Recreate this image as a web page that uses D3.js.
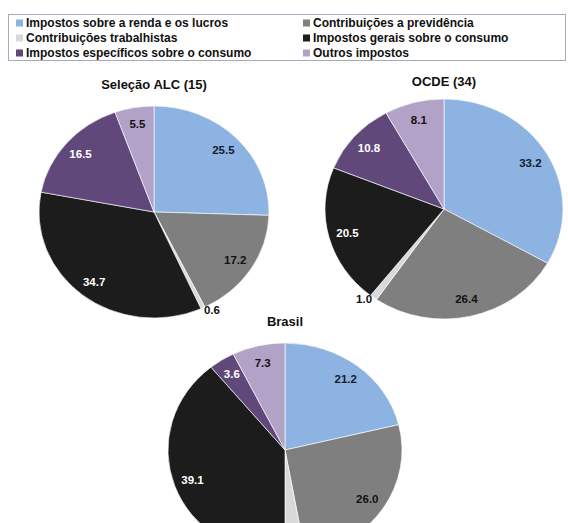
<!DOCTYPE html>
<html>
<head>
<meta charset="utf-8">
<script src="https://cdn.jsdelivr.net/npm/d3@7"></script>
<style>
  html, body { margin: 0; padding: 0; background: #fff; }
  svg { display: block; font-family: "Liberation Sans", Arial, sans-serif; }
</style>
</head>
<body>
<svg id="chart" width="568" height="523"></svg>
<script>
const categories = [
  "Impostos sobre a renda e os lucros",
  "Contribuições a previdência",
  "Contribuições trabalhistas",
  "Impostos gerais sobre o consumo",
  "Impostos específicos sobre o consumo",
  "Outros impostos"
];
const colors = ["#8db3e2", "#7f7f7f", "#d9d9d9", "#1c1c1c", "#60497a", "#b3a2c7"];
const labelColors = ["#141b2e", "#111", "#111", "#fff", "#fff", "#111"];

const alcValues = [25.5, 17.2, 0.6, 34.7, 16.5, 5.5];
const ocdeValues = [33.2, 26.4, 1.0, 20.5, 10.8, 8.1];
const brasilValues = [21.2, 26.0, 2.8, 39.1, 3.6, 7.3];

const pies = [
  { title: "Seleção ALC (15)", values: alcValues, cx: 154, cy: 212, rx: 115, ry: 106, ty: 89 },
  { title: "OCDE (34)", values: ocdeValues, cx: 444, cy: 209, rx: 119, ry: 110, ty: 86 },
  { title: "Brasil", values: brasilValues, cx: 285, cy: 450, rx: 117, ry: 107, ty: 326 }
];

const W = 568, H = 523;
const svg = d3.select("#chart");

// Legend
const legend = svg.append("g");
legend.append("rect")
  .attr("x", 8.5).attr("y", 14.5).attr("width", 557).attr("height", 46)
  .attr("fill", "#fff").attr("stroke", "#a9a9bd").attr("stroke-width", 1);

const colX = [16, 303];
const rowY = [23, 38, 53];
categories.forEach((c, i) => {
  const col = i % 2, row = Math.floor(i / 2);
  const g = legend.append("g").attr("transform", `translate(${colX[col]},${rowY[row]})`);
  g.append("rect").attr("x", 0).attr("y", -3.5).attr("width", 7).attr("height", 7).attr("fill", colors[i]);
  g.append("text").attr("x", 10).attr("y", 0).attr("dy", "0.35em")
    .attr("font-size", 12).attr("font-weight", "bold").attr("fill", "#111").text(c);
});

const pieGen = d3.pie().sort(null).value(d => d);

pies.forEach(p => {
  const r = p.ry;
  const sx = p.rx / p.ry;
  const arc = d3.arc().innerRadius(0).outerRadius(r);
  const arcs = pieGen(p.values);
  const g = svg.append("g").attr("transform", `translate(${p.cx},${p.cy})`);
  const shapes = g.append("g").attr("transform", `scale(${sx},1)`);
  shapes.selectAll("path").data(arcs).join("path")
    .attr("d", arc)
    .attr("fill", (d, i) => colors[i])
    .attr("stroke", "#fff").attr("stroke-width", 0.6);

  arcs.forEach((d, i) => {
    const mid = (d.startAngle + d.endAngle) / 2;
    const small = d.value < 3;
    const rr = small ? 1.02 : 0.84;
    const x = Math.sin(mid) * rr * p.rx;
    const y = -Math.cos(mid) * rr * p.ry;
    // labels that fall below the visible canvas are not drawn (as in the reference crop)
    if (p.cy + y + 8 > H) return;
    g.append("text")
      .attr("x", x).attr("y", y).attr("dy", "0.35em")
      .attr("text-anchor", small ? (Math.sin(mid) >= 0 ? "start" : "end") : "middle")
      .attr("font-size", 11.5).attr("font-weight", "bold")
      .attr("fill", small ? "#111" : labelColors[i])
      .text(d3.format(".1f")(d.value));
  });

  svg.append("text")
    .attr("x", p.cx).attr("y", p.ty)
    .attr("text-anchor", "middle")
    .attr("font-size", 13).attr("font-weight", "bold").attr("fill", "#111")
    .text(p.title);
});
</script>
</body>
</html>
